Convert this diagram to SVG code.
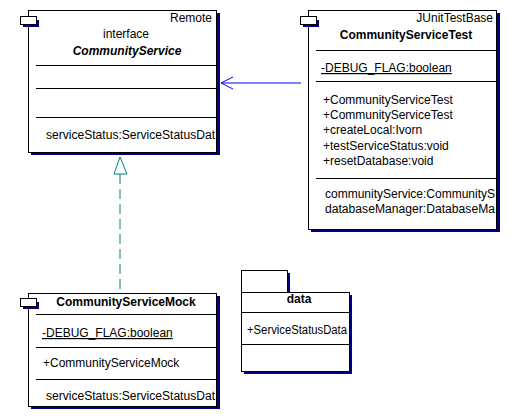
<svg xmlns="http://www.w3.org/2000/svg" width="511" height="419" viewBox="0 0 511 419">
<style>
text{font-family:"Liberation Sans",Arial,sans-serif;font-size:12px;fill:#000}
.b{font-weight:bold}
.bi{font-weight:bold;font-style:italic}
.box{fill:#fff;stroke:#000;stroke-width:1}
.sh{fill:#000080}
.sep{stroke:#000;stroke-width:1}
.u{text-decoration:underline}
</style>
<rect width="511" height="419" fill="#fff"/>
<g id="connectors">
<line x1="120" y1="174" x2="120" y2="293" stroke="#008080" stroke-dasharray="10,5"/>
<polygon points="120,157 114,174 127,174" fill="#fff" stroke="#008080"/>
<line x1="221" y1="83" x2="301" y2="83" stroke="#0000ff"/>
<polyline points="233,77 221,83 233,89" fill="none" stroke="#0000ff"/>
</g>
<g id="CommunityService">
<rect class="sh" x="31" y="13" width="189" height="142"/>
<rect class="box" x="28.5" y="10.5" width="188" height="142"/>
<rect class="sh" x="23" y="20" width="16" height="7"/>
<rect class="box" x="20.5" y="16.5" width="16" height="8"/>
<text x="212" y="22" text-anchor="end">Remote</text>
<text x="126" y="38" text-anchor="middle">interface</text>
<text class="bi" x="127" y="55" text-anchor="middle">CommunityService</text>
<text x="46" y="139" textLength="169" lengthAdjust="spacingAndGlyphs">serviceStatus:ServiceStatusDat</text>
<line class="sep" x1="36" y1="65.5" x2="216" y2="65.5"/>
<line class="sep" x1="36" y1="88.5" x2="216" y2="88.5"/>
<line class="sep" x1="36" y1="117.5" x2="216" y2="117.5"/>
</g>
<g id="CommunityServiceTest">
<rect class="sh" x="311" y="13" width="189" height="219"/>
<rect class="box" x="308.5" y="10.5" width="188" height="219"/>
<rect class="sh" x="303" y="20" width="16" height="7"/>
<rect class="box" x="300.5" y="16.5" width="16" height="8"/>
<text x="493" y="22" text-anchor="end">JUnitTestBase</text>
<text class="b" x="406" y="39" text-anchor="middle">CommunityServiceTest</text>
<text class="u" x="321" y="72">-DEBUG_FLAG:boolean</text>
<text x="323" y="104">+CommunityServiceTest</text>
<text x="323" y="119">+CommunityServiceTest</text>
<text x="323" y="134">+createLocal:Ivorn</text>
<text x="323" y="150">+testServiceStatus:void</text>
<text x="323" y="165">+resetDatabase:void</text>
<text x="325" y="198" textLength="170" lengthAdjust="spacingAndGlyphs">communityService:CommunityS</text>
<text x="325" y="213" textLength="170" lengthAdjust="spacingAndGlyphs">databaseManager:DatabaseMa</text>
<line class="sep" x1="316" y1="50.5" x2="496" y2="50.5"/>
<line class="sep" x1="316" y1="81.5" x2="496" y2="81.5"/>
<line class="sep" x1="316" y1="178.5" x2="496" y2="178.5"/>
</g>
<g id="CommunityServiceMock">
<rect class="sh" x="31" y="296" width="189" height="113"/>
<rect class="box" x="28.5" y="293.5" width="188" height="113"/>
<rect class="sh" x="23" y="302" width="16" height="7"/>
<rect class="box" x="20.5" y="298.5" width="16" height="8"/>
<text class="b" x="126" y="306" text-anchor="middle">CommunityServiceMock</text>
<text class="u" x="42" y="337">-DEBUG_FLAG:boolean</text>
<text x="43" y="367">+CommunityServiceMock</text>
<text x="46" y="400" textLength="169" lengthAdjust="spacingAndGlyphs">serviceStatus:ServiceStatusDat</text>
<line class="sep" x1="36" y1="314.5" x2="216" y2="314.5"/>
<line class="sep" x1="36" y1="347.5" x2="216" y2="347.5"/>
<line class="sep" x1="36" y1="379.5" x2="216" y2="379.5"/>
</g>
<g id="data">
<rect class="sh" x="244" y="273" width="46" height="22"/>
<rect class="box" x="241.5" y="270.5" width="46" height="22"/>
<rect class="sh" x="244" y="295" width="108" height="79"/>
<rect class="box" x="241.5" y="292.5" width="108" height="79"/>
<text class="b" x="299" y="303" text-anchor="middle">data</text>
<line class="sep" x1="241" y1="312.5" x2="349" y2="312.5"/>
<text x="247" y="334" textLength="100" lengthAdjust="spacingAndGlyphs">+ServiceStatusData</text>
<line class="sep" x1="241" y1="344.5" x2="349" y2="344.5"/>
</g>
</svg>
